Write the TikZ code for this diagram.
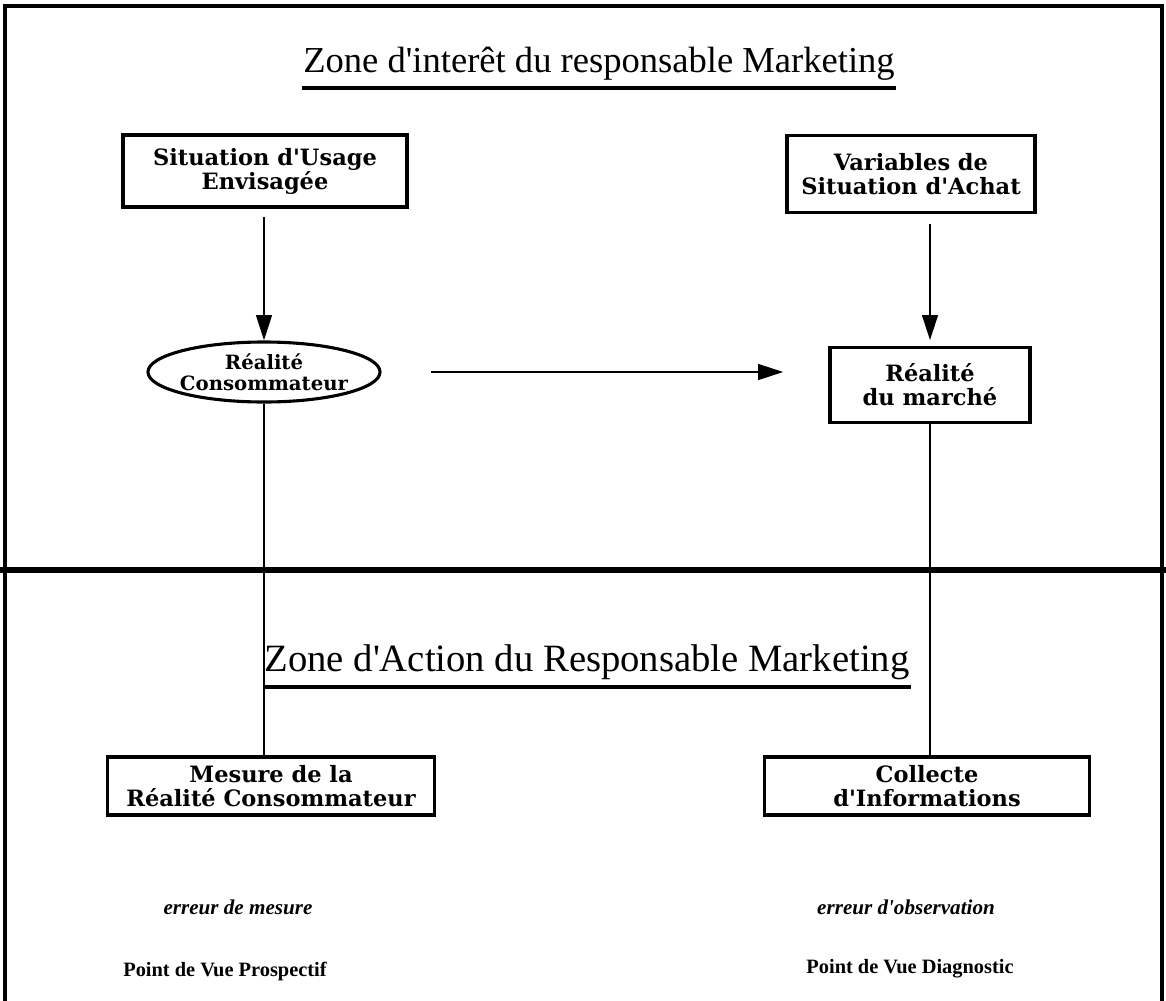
\documentclass[tikz,border=0pt]{standalone}
\usepackage{fontspec}
\setmainfont{Liberation Serif}
\newfontfamily\boxfont{DejaVu Serif}
\usetikzlibrary{arrows.meta,shapes.geometric}

\tikzset{
  bloc/.style={draw,line width=2.2pt,align=center,inner sep=2pt,
    font=\boxfont\bfseries\fontsize{16}{17}\selectfont},
  arr/.style={line width=2.1pt,-{Triangle[length=18pt,width=11pt]}},
  trait/.style={line width=2.1pt},
  ulig/.style={line width=2.6pt},
  titre/.style={inner sep=1pt}
}

\begin{document}
\begin{tikzpicture}[x=0.025cm,y=-0.025cm]
\useasboundingbox (0,0) rectangle (1166,1001);

% cadre et separation
\draw[line width=2.8pt] (5,1001) -- (5,6) -- (1162,6) -- (1162,1001);
\draw[line width=4.5pt] (0,570) -- (1166,570);

% zone du haut
\node[titre,font=\fontsize{26}{28}\selectfont] (t1) at (599,64) {Zone d\textquotesingle interêt du responsable Marketing};
\draw[ulig] ([yshift=-4pt]t1.south west) -- ([yshift=-4pt]t1.south east);

\node[bloc,minimum width=7.1cm,minimum height=1.8cm] (usage) at (265,171) {Situation d'Usage\\Envisagée};
\node[bloc,ellipse,minimum width=5.8cm,minimum height=1.5cm,inner xsep=-14pt,inner ysep=-3pt,
  font=\boxfont\bfseries\fontsize{14}{15}\selectfont] (conso) at (264,372) {Réalité\\Consommateur};
\node[bloc,minimum width=6.2cm,minimum height=1.925cm] (achat) at (911,174) {Variables de\\Situation d'Achat};
\node[bloc,minimum width=5cm,minimum height=1.875cm] (marche) at (930,385) {Réalité\\du marché};

\draw[arr,shorten <=6pt] (usage.south -| conso.north) -- (conso.north);
\draw[arr,shorten <=7pt,shorten >=4pt] (achat.south -| marche.north) -- (marche.north);
\draw[arr,shorten <=35pt,shorten >=32pt] (conso.east) -- (conso.east -| marche.west);

% zone du bas
\node[titre,font=\fontsize{27.5}{30}\selectfont] (t2) at (587,662) {Zone d\textquotesingle Action du Responsable Marketing};
\draw[ulig] ([yshift=-4pt]t2.south west) -- ([yshift=-4pt]t2.south east);

\node[bloc,minimum width=8.175cm,minimum height=1.45cm] (mesure) at (271,786) {Mesure de la\\Réalité Consommateur};
\node[bloc,minimum width=8.125cm,minimum height=1.45cm] (collecte) at (927,786) {Collecte\\d'Informations};

\draw[trait] (conso.south) -- (conso.south |- mesure.north);
\draw[trait] (marche.south) -- (marche.south |- collecte.north);

\node[font=\bfseries\itshape\fontsize{15}{17}\selectfont] (err1) at (238,907) {erreur de mesure};
\node[font=\bfseries\itshape\fontsize{15}{17}\selectfont] (err2) at (906,907) {erreur d\textquotesingle observation};
\node[font=\bfseries\fontsize{14.5}{17}\selectfont] (pv1) at (225,971) {Point de Vue Prospectif};
\node[font=\bfseries\fontsize{14.5}{17}\selectfont] (pv2) at (910,969) {Point de Vue Diagnostic};
\end{tikzpicture}
\end{document}
